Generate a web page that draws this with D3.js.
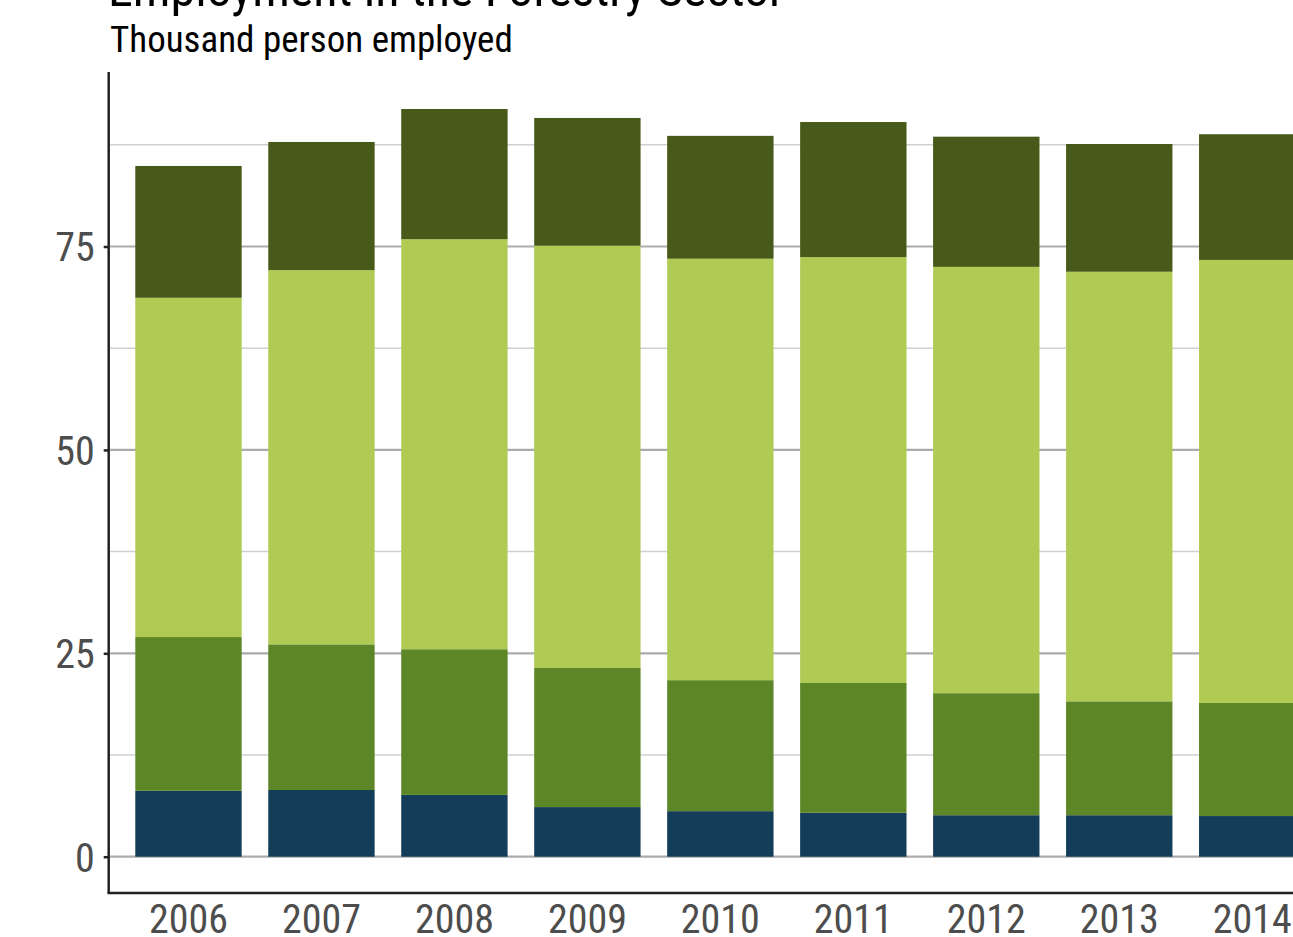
<!DOCTYPE html>
<html>
<head>
<meta charset="utf-8">
<script src="https://cdn.jsdelivr.net/npm/d3@7"></script>
<style>
    body { margin: 0; background: #fff; }
    svg { display: block; }
    .txt { font-family: "Liberation Sans Narrow", "Roboto Condensed", "Roboto", sans-serif; }
    .tick-label { fill: #4d4d4d; font-size: 40px; font-family: "Liberation Sans Narrow", "Roboto Condensed", "Roboto", sans-serif; }
</style>
</head>
<body>
<div id="chart"></div>
<script>
// Data (thousand persons employed), stacked bottom to top
const years = ['2006', '2007', '2008', '2009', '2010', '2011', '2012', '2013', '2014'];
const seriesNames = ['s1', 's2', 's3', 's4'];
const s1 = [8.1, 8.2, 7.6, 6.1, 5.6, 5.4, 5.1, 5.1, 5.0];
const s2 = [18.9, 17.9, 17.9, 17.1, 16.1, 15.95, 15.0, 14.0, 13.9];
const s3 = [41.7, 46.0, 50.4, 51.9, 51.8, 52.35, 52.4, 52.8, 54.45];
const s4 = [16.2, 15.75, 16.0, 15.7, 15.1, 16.6, 16.0, 15.7, 15.45];
const yTicks = [0, 25, 50, 75];
const yMinor = [12.5, 37.5, 62.5, 87.5];

const colors = ['#143d59', '#5d8726', '#afcb54', '#485a19'];

const width = 1293, height = 937;
const plot = { left: 108.7, right: 1332, top: 72, bottom: 893 };

const rows = years.map((yr, i) => ({ year: yr, s1: s1[i], s2: s2[i], s3: s3[i], s4: s4[i] }));
const stacked = d3.stack().keys(seriesNames)(rows);

const svg = d3.select('#chart')
    .append('svg')
    .attr('width', width)
    .attr('height', height);

// Scales
const x = d3.scaleBand()
    .domain(years)
    .range([plot.left, plot.right])
    .paddingInner(0.2)
    .paddingOuter(0.2);

const y = d3.scaleLinear()
    .domain([-4.46, 96.45])
    .range([plot.bottom, plot.top]);

// Grid
svg.append('g')
    .selectAll('line')
    .data(yMinor)
    .join('line')
    .attr('x1', plot.left + 1.5)
    .attr('x2', width)
    .attr('y1', d => y(d))
    .attr('y2', d => y(d))
    .attr('stroke', '#d0d0d0')
    .attr('stroke-width', 1.5);

svg.append('g')
    .selectAll('line')
    .data(yTicks)
    .join('line')
    .attr('x1', plot.left + 1.5)
    .attr('x2', width)
    .attr('y1', d => y(d))
    .attr('y2', d => y(d))
    .attr('stroke', '#ababab')
    .attr('stroke-width', 2.2);

// Bars
svg.append('g')
    .selectAll('g')
    .data(stacked)
    .join('g')
    .attr('fill', (d, i) => colors[i])
    .selectAll('rect')
    .data(d => d)
    .join('rect')
    .attr('x', d => x(d.data.year))
    .attr('width', x.bandwidth())
    .attr('y', d => y(d[1]))
    .attr('height', d => y(d[0]) - y(d[1]));

// Axes
const yAxis = svg.append('g')
    .attr('transform', `translate(${plot.left},0)`)
    .call(d3.axisLeft(y).tickValues(yTicks).tickSize(5).tickPadding(9));
yAxis.select('.domain').attr('stroke', '#222').attr('stroke-width', 2.5)
    .attr('d', `M0,${plot.top}V${plot.bottom}`);
yAxis.selectAll('.tick line').attr('stroke', '#222').attr('stroke-width', 2.5);
yAxis.selectAll('.tick text').attr('class', 'tick-label').attr('dy', '0.36em');

const xAxis = svg.append('g')
    .attr('transform', `translate(0,${plot.bottom})`)
    .call(d3.axisBottom(x).tickSize(0).tickPadding(12));
xAxis.select('.domain').attr('stroke', '#222').attr('stroke-width', 2.5)
    .attr('d', `M${plot.left - 1.2},0H${width}`);
xAxis.selectAll('.tick text').attr('class', 'tick-label');

// Titles (title is clipped by the top edge)
svg.append('text')
    .attr('class', 'txt')
    .attr('x', 108)
    .attr('y', 6)
    .attr('font-size', 50)
    .attr('fill', '#000')
    .text('Employment in the Forestry Sector');

svg.append('text')
    .attr('class', 'txt')
    .attr('x', 110)
    .attr('y', 52)
    .attr('font-size', 37)
    .attr('fill', '#000')
    .text('Thousand person employed');
</script>
</body>
</html>
